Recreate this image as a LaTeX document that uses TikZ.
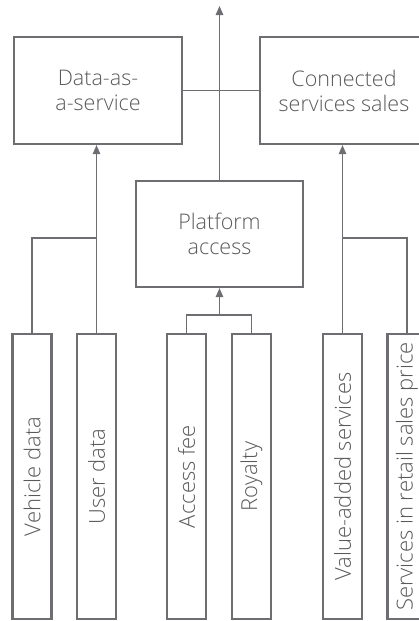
\documentclass[tikz,border=0pt]{standalone}
\usepackage{fontspec}
\IfFontExistsTF{Open Sans Light}
  {\setmainfont{Open Sans Light}}
  {\setmainfont{Open Sans}}
\usetikzlibrary{arrows.meta}
\definecolor{linegray}{HTML}{6D6E71}
\definecolor{textgray}{HTML}{58595B}

\begin{document}
\begin{tikzpicture}[x=1pt,y=-1pt,
  labelfont/.style={font=\fontsize{21.5}{25}\selectfont, text=textgray},
  box/.style={draw=linegray, line width=2.2pt, inner sep=0pt,
    minimum width=168pt, minimum height=107pt, align=center, labelfont},
  bar/.style={draw=linegray, line width=2.2pt, inner sep=0pt,
    minimum width=39pt, minimum height=285pt},
  barlabel/.style={rotate=90, inner sep=0pt, font=\fontsize{22}{25}\selectfont, text=textgray},
  link/.style={draw=linegray, line width=1.2pt},
  flow/.style={link, -{Triangle[length=9pt,width=7.5pt]}}]

\useasboundingbox (0,0) rectangle (419,621);
\clip (0,0) rectangle (419,621);

% upper revenue boxes
\node[box] (daas) at (98,90.5) {Data-as-\\a-service};
\node[box] (conn) at (344,90.5) {Connected\\services sales};
\node[box, minimum width=167pt, minimum height=106pt] (plat) at (219.5,234) {Platform\\access};

% revenue sources
\node[bar] (vd) at (32,476.5) {};
\node[bar] (ud) at (96.5,476.5) {};
\node[bar] (af) at (186.5,476.5) {};
\node[bar] (ro) at (251.5,476.5) {};
\node[bar] (va) at (342.5,476.5) {};
\node[bar] (sr) at (407,476.5) {};

\node[barlabel] (vdt) at (vd.center) {Vehicle data};
\node[barlabel] (udt) at (ud.center) {User data};
\node[barlabel] (aft) at (af.center) {Access fee};
\node[barlabel] (rot) at (ro.center) {Royalty};
\node[barlabel] (vat) at (va.center) {Value-added services};
\node[barlabel] (srt) at (sr.center) {Services in retail sales price};

% junction points
\coordinate (jl) at (96.5,238);
\coordinate (jr) at (342.5,238);
\coordinate (jc) at (219.5,315);
\coordinate (top) at (219.5,6);

% connectors
\draw[flow] (ud.north) -- (ud.north |- daas.south);
\draw[link] (vd.north) |- (jl);
\draw[flow] (va.north) -- (va.north |- conn.south);
\draw[link] (sr.north) |- (jr);
\draw[link] (af.north) |- (jc) -| (ro.north);
\draw[flow] (jc) -- (plat.south);
\draw[link] (daas.east) -- (conn.west);
\draw[flow] (plat.north) -- (top);
\end{tikzpicture}
\end{document}
